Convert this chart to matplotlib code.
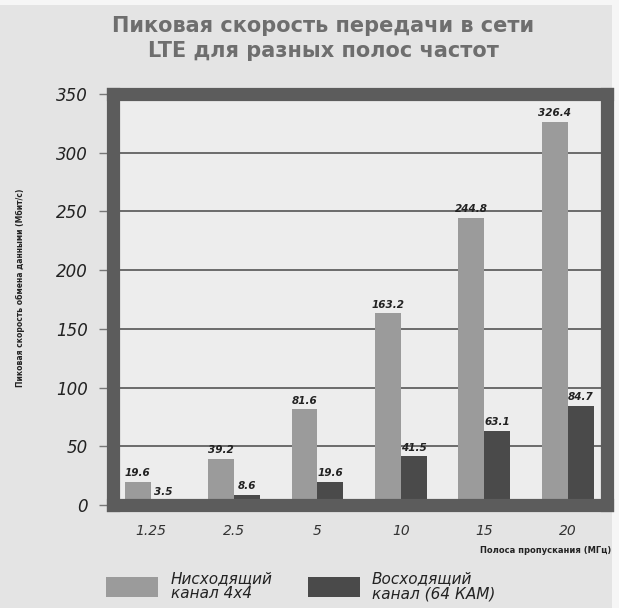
import matplotlib
matplotlib.use("Agg")
import matplotlib.pyplot as plt
from matplotlib.patches import Rectangle
import numpy as np

bands = ["1.25", "2.5", "5", "10", "15", "20"]
downlink = [19.6, 39.2, 81.6, 163.2, 244.8, 326.4]
uplink = [3.5, 8.6, 19.6, 41.5, 63.1, 84.7]
series_names = ["Нисходящий\nканал 4x4", "Восходящий\nканал (64 КАМ)"]
yticks = [0, 50, 100, 150, 200, 250, 300, 350]

title_lines = ["Пиковая скорость передачи в сети", "LTE для разных полос частот"]
ylabel = "Пиковая скорость обмена данными (Мбит/с)"
xlabel = "Полоса пропускания (МГц)"

fig = plt.figure(figsize=(6.19, 6.08), dpi=100, facecolor="#f6f6f6")
# grey panel of the scanned figure (white strip on top and right)
fig.add_artist(Rectangle((0, 0), 612 / 619, 1 - 5 / 608, transform=fig.transFigure,
                         facecolor="#e4e4e4", edgecolor="none", zorder=0))

ax = fig.add_axes([0.1826, 0.1694, 0.798, 0.676])
ax.set_facecolor("#ededed")

x = np.arange(len(bands))
w = 0.31
b1 = ax.bar(x - w / 2, downlink, w, color="#9b9b9b", label=series_names[0], zorder=2)
b2 = ax.bar(x + w / 2, uplink, w, color="#4a4a4a", label=series_names[1], zorder=2)

for bars, vals in [(b1, downlink), (b2, uplink)]:
    for r, v in zip(bars, vals):
        ax.text(r.get_x() + r.get_width() / 2, v + 3, f"{v}", ha="center", va="bottom",
                fontsize=7.5, fontweight="bold", style="italic", color="#222222")

ax.set_xlim(-0.45, 5.47)
ax.set_ylim(0, 350)
ax.set_yticks(yticks)
ax.set_yticklabels([str(t) for t in yticks], fontsize=12, style="italic", color="#222222")
ax.set_xticks(x)
ax.set_xticklabels(bands, fontsize=10, style="italic", color="#333333")
ax.tick_params(axis="y", length=10, width=1, color="#777777", pad=8)
ax.tick_params(axis="x", length=0, pad=14)

ax.yaxis.grid(True, color="#555555", lw=1.2, zorder=1)
ax.set_axisbelow(True)
for s in ax.spines.values():
    s.set_linewidth(9.5)
    s.set_color("#5c5c5c")
    s.set_zorder(3)

fig.text(0.522, 1 - 32 / 608, title_lines[0], ha="center", va="baseline", fontsize=15,
         fontweight="bold", color="#6e6e6e")
fig.text(0.522, 1 - 57 / 608, title_lines[1], ha="center", va="baseline", fontsize=15,
         fontweight="bold", color="#6e6e6e")
fig.text(0.033, 0.526, ylabel, rotation=90, ha="center", va="center", fontsize=5.5,
         fontweight="bold", color="#222222")
fig.text(0.988, 0.094, xlabel, ha="right", va="center", fontsize=6, fontweight="bold",
         color="#222222")

leg = fig.legend(handles=[b1, b2], loc="center left", bbox_to_anchor=(0.172, 0.036),
                 ncol=2, frameon=False, fontsize=11, handlelength=3.4, handleheight=1.6,
                 handletextpad=0.8, columnspacing=2.3, borderpad=0, borderaxespad=0)
for t in leg.get_texts():
    t.set_fontstyle("italic")
    t.set_color("#222222")
    t.set_linespacing(1.0)

fig.savefig("out.png", dpi=100, facecolor=fig.get_facecolor())
